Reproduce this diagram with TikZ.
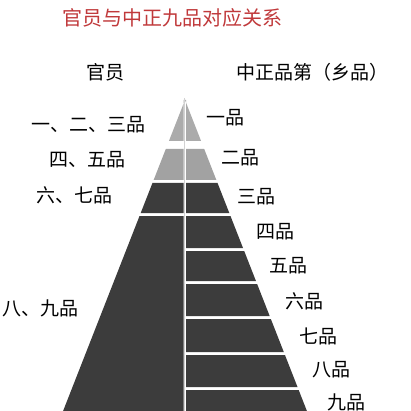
\documentclass[tikz,border=0pt]{standalone}
\usepackage{fontspec}
\setmainfont{Noto Sans CJK SC}
\definecolor{titlered}{HTML}{C0393B}
\definecolor{lightband}{HTML}{ABABAB}
\definecolor{midband}{HTML}{A2A2A2}
\definecolor{darkband}{HTML}{3C3C3C}
\newcommand{\lx}[1]{{185-(#1-100)*0.392}}
\newcommand{\rx}[1]{{185+(#1-100)*0.392}}
% one band of the pyramid: top, bottom, colour of left half, colour of right half
\newcommand{\pband}[4]{%
  \fill[#3] (\lx{#1},#1) -- (183.5,#1) -- (183.5,#2) -- (\lx{#2},#2) -- cycle;
  \fill[#4] (186,#1) -- (\rx{#1},#1) -- (\rx{#2},#2) -- (186,#2) -- cycle;}
\begin{document}
\begin{tikzpicture}[x=1pt, y=-1pt, every node/.style={font=\fontsize{19}{19}\selectfont, inner sep=0pt}]
      \useasboundingbox (0,0) rectangle (411,411);
      % pyramid
      \pband{100}{141}{lightband}{lightband}
      \pband{149}{180}{midband}{midband}
      \pband{183}{213}{darkband}{darkband}
      \fill[darkband] (\lx{216},216) -- (183.5,216) -- (183.5,411) -- (\lx{411},411) -- cycle;
      \foreach \t/\b in {216/248, 251/281, 284/316, 319/352, 355/387, 390/411}
        \fill[darkband] (186,\t) -- (\rx{\t},\t) -- (\rx{\b},\b) -- (186,\b) -- cycle;
      \draw[gray!35, line width=1.2pt] (184.8,98) -- (184.8,411);
      % texts
      \node[text=titlered, font=\fontsize{20}{20}\selectfont] (title) at (172,18) {官员与中正九品对应关系};
      \node (guan) at (105,72) {官员};
      \node (zhong) at (312,72) {中正品第（乡品）};
      \node (l1) at (88,125) {一、二、三品};
      \node (l2) at (87,160) {四、五品};
      \node (l3) at (74,195) {六、七品};
      \node (l4) at (40,308) {八、九品};
      \node (r1) at (225,118) {一品};
      \node (r2) at (240,158) {二品};
      \node (r3) at (256,197) {三品};
      \node (r4) at (275,232) {四品};
      \node (r5) at (288,266) {五品};
      \node (r6) at (304,301) {六品};
      \node (r7) at (318,336) {七品};
      \node (r8) at (331,370) {八品};
      \node (r9) at (346,402) {九品};
    \end{tikzpicture}
\end{document}
